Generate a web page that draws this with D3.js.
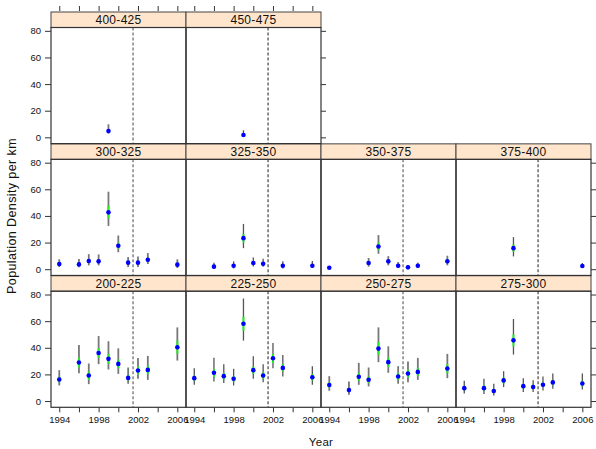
<!DOCTYPE html>
<html><head><meta charset="utf-8">
<script src="https://cdn.jsdelivr.net/npm/d3@7"></script>
<style>
html,body{margin:0;padding:0;background:#fff;}
svg text{font-family:"Liberation Sans",Arial,Helvetica,sans-serif;}
</style></head>
<body><svg id="chart" width="596" height="449"></svg>
<script>
// Data rows: [year, mean, low, high, innerLow, innerHigh]
const p200_225 = [[1994,16.2,11.7,23.2,14.2,18.2],[1996,28.9,20.9,42.1,25.2,32.6],[1997,19.2,12.7,28.2,16.0,22.2],[1998,36.1,27.7,48.8,32.5,39.8],[1999,31.7,23.7,44.9,28.0,35.5],[2000,27.9,20.4,39.6,24.6,31.4],[2001,17.4,13.0,25.2,15.4,19.6],[2002,22.9,16.7,32.4,20.0,26.0],[2003,23.4,15.9,33.9,20.3,26.6],[2006,40.4,30.4,55.3,35.6,45.4]];
const p225_250 = [[1994,17.2,12.2,24.7,15.0,19.2],[1996,21.2,14.7,32.6,17.9,24.2],[1997,18.7,13.5,27.7,16.2,21.2],[1998,16.7,11.7,24.2,14.7,18.7],[1999,58.1,45.4,77.0,52.8,63.3],[2000,23.2,16.7,33.6,20.4,26.0],[2001,19.2,14.2,27.7,16.7,21.7],[2002,32.1,24.7,43.6,28.6,35.4],[2003,24.9,18.4,34.6,22.2,27.9],[2006,17.9,12.2,26.2,15.4,20.4]];
const p250_275 = [[1994,12.0,7.7,18.7,10.0,14.0],[1996,8.2,4.7,14.7,6.7,9.9],[1997,18.2,12.2,28.7,15.3,21.2],[1998,16.0,11.0,25.2,13.5,18.5],[1999,39.4,29.2,55.3,34.8,44.2],[2000,29.2,21.2,41.1,25.5,32.8],[2001,18.4,13.0,26.2,15.8,21.0],[2002,20.7,14.2,29.7,17.7,23.7],[2003,21.9,15.9,32.4,18.9,25.0],[2006,24.4,17.2,35.4,21.0,27.8]];
const p275_300 = [[1994,9.7,5.7,15.2,7.9,11.4],[1996,9.7,5.2,16.7,7.8,11.8],[1997,7.5,4.2,13.0,6.0,9.2],[1998,15.5,10.5,22.4,13.2,17.6],[1999,45.6,34.9,61.6,41.1,50.2],[2000,11.2,6.7,17.2,9.4,13.0],[2001,10.5,6.7,15.7,8.9,12.2],[2002,12.2,8.0,18.4,10.4,14.0],[2003,14.0,9.2,20.7,12.0,16.0],[2006,13.2,8.7,20.7,11.1,15.3]];
const p300_325 = [[1994,3.9,1.6,7.4,2.9,4.9],[1996,3.6,1.4,7.6,2.6,4.7],[1997,6.1,2.9,11.3,4.6,7.6],[1998,5.9,2.9,11.1,4.5,7.4],[1999,42.7,32.5,58.2,38.2,47.7],[2000,17.6,12.8,25.3,15.3,20.0],[2001,4.9,1.6,9.1,3.6,6.2],[2002,4.9,1.6,9.6,3.5,6.4],[2003,7.1,3.9,12.1,5.7,8.6],[2006,3.4,0.9,7.4,2.3,4.6]];
const p325_350 = [[1996,1.9,0.4,4.9,1.2,2.7],[1998,2.6,0.6,5.9,1.7,3.6],[1999,23.3,15.8,34.0,20.0,26.6],[2000,4.6,2.1,8.8,3.4,5.9],[2001,4.1,1.9,7.9,3.1,5.2],[2003,2.6,0.6,5.9,1.7,3.6],[2006,2.6,0.9,6.1,1.8,3.5]];
const p350_375 = [[1994,1.1,0.1,2.1,0.7,1.5],[1998,4.6,1.9,8.4,3.4,5.9],[1999,17.1,11.6,25.6,14.4,20.0],[2000,5.9,2.9,9.8,4.6,7.2],[2001,2.6,0.9,5.4,1.8,3.4],[2002,1.4,0.1,2.9,0.9,1.9],[2003,2.6,0.9,4.9,1.8,3.4],[2006,5.9,2.9,10.1,4.6,7.3]];
const p375_400 = [[1999,15.8,9.6,24.1,13.0,18.6],[2006,2.4,0.9,4.6,1.7,3.1]];
const p400_425 = [[1999,4.8,2.8,9.8,3.8,6.0]];
const p450_475 = [[1999,1.8,0.3,5.3,1.0,2.7]];

const panelLabels = ["200-225","225-250","250-275","275-300","300-325","325-350","350-375","375-400","400-425","450-475"];
const panelData = [p200_225,p225_250,p250_275,p275_300,p300_325,p325_350,p350_375,p375_400,p400_425,p450_475];
const xTicks = [1994,1996,1998,2000,2002,2004,2006];
const xTickLabels = [1994,1998,2002,2006];
const yTicks = [0,20,40,60,80];
const refYear = 2001.5;
const xTitle = "Year";
const yTitle = "Population Density per km";

// layout
const colX = [51,186,321,456], panelW = 135;
const rowTop = [12,143.85,275.7];   // top of strip, visual row 0 = top
const stripH = 15.5, rowH = 131.6;
const xDomain = [1993.16, 2006.88], yDomain = [-4.7, 82.5];

const svg = d3.select("#chart");
const axisCol = "#333";

panelData.forEach((data,i)=>{
  // panels 0-3 bottom row, 4-7 middle row, 8-9 top row
  const vrow = i < 4 ? 2 : (i < 8 ? 1 : 0);
  const col = i % 4;
  const x0 = colX[col], top = rowTop[vrow];
  const pTop = top + stripH, pBot = top + rowH;
  const x = d3.scaleLinear().domain(xDomain).range([x0, x0+panelW]);
  const y = d3.scaleLinear().domain(yDomain).range([pBot, pTop]);
  const g = svg.append("g");
  const soft = (col % 2 === 0);

  // strip
  g.append("rect").attr("x",x0).attr("y",top).attr("width",panelW).attr("height",stripH)
    .attr("fill","#ffe5cc").attr("stroke","#444").attr("stroke-width",1);
  g.append("text").attr("x",x0+panelW/2).attr("y",top+stripH/2+4.2).attr("text-anchor","middle")
    .attr("font-size",12).attr("fill","#111").attr("letter-spacing","0.3").text(panelLabels[i]);

  // reference line
  g.append("line").attr("x1",x(refYear)).attr("x2",x(refYear)).attr("y1",pTop).attr("y2",pBot)
    .attr("stroke",soft ? "#999" : "#333").attr("stroke-width",soft ? 1.8 : 1.1).attr("stroke-dasharray","3,2");

  // error bars
  g.selectAll(".bar").data(data).enter().append("line")
    .attr("x1",d=>x(d[0])).attr("x2",d=>x(d[0])).attr("y1",d=>y(d[2])).attr("y2",d=>y(d[3]))
    .attr("stroke",soft ? "#777" : "#555").attr("stroke-width",soft ? 1.8 : 1.3);
  g.selectAll(".inner").data(data).enter().append("line")
    .attr("x1",d=>x(d[0])).attr("x2",d=>x(d[0])).attr("y1",d=>y(d[4])).attr("y2",d=>y(d[5]))
    .attr("stroke","#22ee22").attr("stroke-width",2);
  g.selectAll(".pt").data(data).enter().append("circle")
    .attr("cx",d=>x(d[0])).attr("cy",d=>y(d[1])).attr("r",2.3)
    .attr("fill","#0000ff");

  // panel border
  g.append("rect").attr("x",x0).attr("y",pTop).attr("width",panelW).attr("height",pBot-pTop)
    .attr("fill","none").attr("stroke","#333").attr("stroke-width",1.2);

  // bottom axis (bottom row)
  if (vrow === 2) {
    const ax = d3.axisBottom(x).tickValues(xTicks).tickSize(5).tickPadding(4)
      .tickFormat(d=> xTickLabels.includes(d) ? d : "");
    const a = g.append("g").attr("transform",`translate(0,${pBot})`).call(ax);
    a.select(".domain").remove();
    a.selectAll("line").attr("stroke",axisCol);
    a.selectAll("text").attr("font-size",9.5).attr("fill","#111").attr("font-family","Liberation Sans, Arial, sans-serif");
  }
  // top axis ticks (top-row panels) above strip
  if (vrow === 0) {
    const ax = d3.axisTop(x).tickValues(xTicks).tickSize(5).tickFormat("");
    const a = g.append("g").attr("transform",`translate(0,${top-1})`).call(ax);
    a.select(".domain").remove();
    a.selectAll("line").attr("stroke",axisCol);
  }
  // left axis
  if (col === 0) {
    const ay = d3.axisLeft(y).tickValues(yTicks).tickSize(6).tickPadding(4);
    const a = g.append("g").attr("transform",`translate(${x0},0)`).call(ay);
    a.select(".domain").remove();
    a.selectAll("line").attr("stroke",axisCol);
    a.selectAll("text").attr("font-size",9.5).attr("fill","#111").attr("font-family","Liberation Sans, Arial, sans-serif");
  }
  // right ticks for last panel in each row
  if (col === 3 || i === 9) {
    const ay = d3.axisRight(y).tickValues(yTicks).tickSize(5).tickFormat("");
    const a = g.append("g").attr("transform",`translate(${x0+panelW},0)`).call(ay);
    a.select(".domain").remove();
    a.selectAll("line").attr("stroke",axisCol);
  }
});

svg.append("text").attr("x",321).attr("y",446).attr("text-anchor","middle")
  .attr("font-size",11.5).attr("fill","#111").attr("letter-spacing","0.3").text(xTitle);
svg.append("text").attr("transform","translate(16,216) rotate(-90)").attr("text-anchor","middle")
  .attr("font-size",12.5).attr("fill","#111").attr("letter-spacing","0.4").text(yTitle);
</script></body></html>
